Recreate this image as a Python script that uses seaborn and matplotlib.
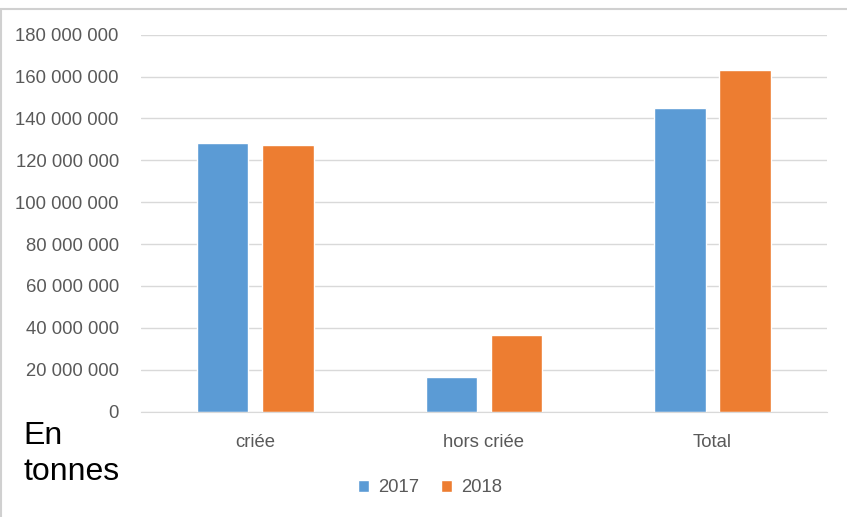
import matplotlib
matplotlib.use("Agg")
import matplotlib.pyplot as plt
import matplotlib.ticker as mticker
from matplotlib.patches import Rectangle
import pandas as pd
import seaborn as sns

categories = ["criée", "hors criée", "Total"]
years = ["2017", "2018"]
vals_2017 = [128_100_000, 16_300_000, 144_800_000]
vals_2018 = [127_100_000, 36_500_000, 163_200_000]
yticks = list(range(0, 180_000_001, 20_000_000))

df = pd.DataFrame({
    "cat": categories * 2,
    "year": [years[0]] * 3 + [years[1]] * 3,
    "val": vals_2017 + vals_2018,
})

sns.set_style("white")
plt.rcParams["font.family"] = ["Liberation Sans", "DejaVu Sans"]

fig = plt.figure(figsize=(8.47, 5.17), dpi=100)
ax = fig.add_axes([0.1665, 0.204, 0.8095, 0.729])

sns.barplot(data=df, x="cat", y="val", hue="year", order=categories,
            palette={"2017": "#5B9BD5", "2018": "#ED7D31"},
            width=0.57, gap=0.21, saturation=1, ax=ax, legend=True)

ax.set_ylim(0, 180_000_000)
ax.set_xlim(-0.5, 2.5)
ax.set_yticks(yticks)
ax.yaxis.set_major_formatter(mticker.FuncFormatter(
    lambda v, p: f"{int(v):,}".replace(",", " ")))
ax.grid(axis="y", color="#d9d9d9", linewidth=1)
ax.set_axisbelow(True)
for s in ["left", "right", "top"]:
    ax.spines[s].set_visible(False)
ax.spines["bottom"].set_color("#d9d9d9")
ax.tick_params(axis="both", length=0, labelsize=13.3, colors="#595959")
ax.tick_params(axis="y", pad=16)
ax.tick_params(axis="x", pad=16)
ax.set_xlabel("")
ax.set_ylabel("")

handles, labels = ax.get_legend_handles_labels()
ax.get_legend().remove()
leg = fig.legend(handles, labels, loc="center", ncol=2,
                 bbox_to_anchor=(430 / 847, 1 - 488 / 517), frameon=False,
                 fontsize=13.3, handlelength=0.6, handleheight=0.6,
                 handletextpad=0.5, columnspacing=1.2)
for t in leg.get_texts():
    t.set_color("#595959")

fig.text(23 / 847, 1 - 444 / 517, "En", fontsize=23, color="black",
         va="baseline", ha="left")
fig.text(23 / 847, 1 - 480 / 517, "tonnes", fontsize=23, color="black",
         va="baseline", ha="left")

# outer frame (top and left edges)
fig.patches.append(Rectangle((0.001, -0.05), 1.2, 1 - 8.5 / 517 + 0.05,
                             transform=fig.transFigure, fill=False,
                             edgecolor="#d0d0d0", linewidth=1.5))

fig.savefig("out.png", dpi=100)
